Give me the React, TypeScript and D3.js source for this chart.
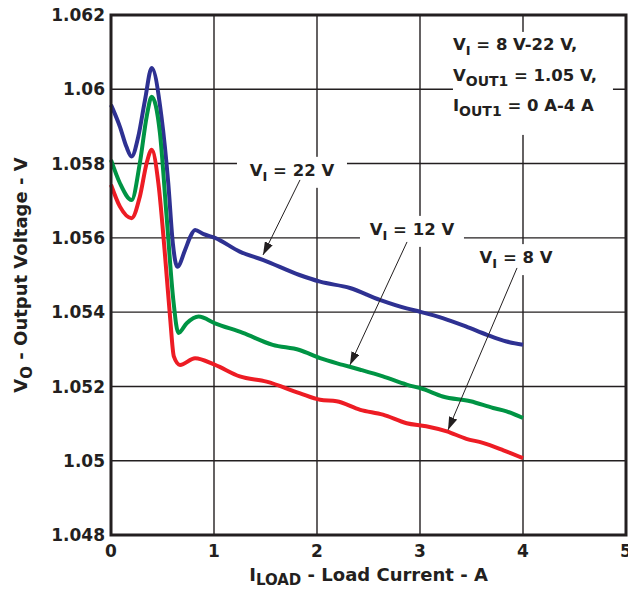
import * as d3 from "d3";

// Load current (A) / output voltage (V)
const current22 = [0, 0.087, 0.15, 0.2, 0.265, 0.33, 0.395, 0.49, 0.556, 0.6, 0.644, 0.72, 0.77, 0.816, 0.9, 1.01, 1.25, 1.48, 1.83, 2.03, 2.32, 2.61, 2.87, 3.0, 3.22, 3.45, 3.65, 3.84, 4.0];
const vout22 = [1.05958, 1.05899, 1.05845, 1.05819, 1.05873, 1.05971, 1.06057, 1.05926, 1.05747, 1.05586, 1.05522, 1.05568, 1.05603, 1.05621, 1.0561, 1.056, 1.05563, 1.0554, 1.055, 1.05482, 1.05465, 1.05433, 1.0541, 1.05401, 1.05384, 1.05361, 1.05339, 1.05321, 1.05312];

const current12 = [0, 0.087, 0.2, 0.28, 0.346, 0.395, 0.475, 0.54, 0.605, 0.654, 0.735, 0.85, 1.01, 1.28, 1.57, 1.83, 2.03, 2.25, 2.42, 2.64, 2.87, 3.03, 3.22, 3.49, 3.71, 3.84, 4.0];
const vout12 = [1.0581, 1.05747, 1.05702, 1.05801, 1.05926, 1.0598, 1.05882, 1.05657, 1.05433, 1.05344, 1.0537, 1.05388, 1.0537, 1.05344, 1.05312, 1.05298, 1.05276, 1.05258, 1.05245, 1.05227, 1.05205, 1.05193, 1.05173, 1.0516, 1.05142, 1.05133, 1.05115];

const current8 = [0, 0.087, 0.2, 0.28, 0.346, 0.395, 0.46, 0.52, 0.573, 0.61, 0.67, 0.816, 1.01, 1.25, 1.51, 1.83, 2.03, 2.19, 2.42, 2.64, 2.87, 3.06, 3.26, 3.45, 3.61, 3.81, 4.0];
const vout8 = [1.05743, 1.05684, 1.05653, 1.05711, 1.05801, 1.05837, 1.05747, 1.05568, 1.05388, 1.05281, 1.05258, 1.05276, 1.05258, 1.05227, 1.05213, 1.05182, 1.05164, 1.0516, 1.05137, 1.05124, 1.05101, 1.05093, 1.05079, 1.05059, 1.05048, 1.05028, 1.05007];

const xTicks = [0, 1, 2, 3, 4, 5];
const yTicks = [1.048, 1.05, 1.052, 1.054, 1.056, 1.058, 1.06, 1.062];
const yTickLabels = ["1.048", "1.05", "1.052", "1.054", "1.056", "1.058", "1.06", "1.062"];

const seriesNames = ["22", "12", "8"];
const seriesColors = ["#2e3192", "#009444", "#ed1c24"];

const FONT = "'DejaVu Sans', Verdana, sans-serif";
const INK = "#231f20";

export default function App() {
  const width = 628;
  const height = 590;
  const margin = { top: 15, right: 2, bottom: 55, left: 111 };

  const x = d3.scaleLinear().domain([0, 5]).range([margin.left, width - margin.right]);
  const y = d3.scaleLinear().domain([1.048, 1.062]).range([height - margin.bottom, margin.top]);

  const line = d3
    .line<[number, number]>()
    .x((d) => x(d[0]))
    .y((d) => y(d[1]))
    .curve(d3.curveMonotoneX);

  const series = [
    d3.zip(current22, vout22) as [number, number][],
    d3.zip(current12, vout12) as [number, number][],
    d3.zip(current8, vout8) as [number, number][],
  ];

  // callout labels, anchored in data units
  const callouts = [
    { name: seriesNames[0], at: [1.757, 1.05767], half: 55, from: [1.835, 1.05756], to: [1.476, 1.05554] },
    { name: seriesNames[1], at: [2.922, 1.05608], half: 52, from: [2.874, 1.05589], to: [2.32, 1.05258] },
    { name: seriesNames[2], at: [3.932, 1.05532], half: 47, from: [3.942, 1.05519], to: [3.272, 1.05083] },
  ];

  const noteX = x(3.32);
  const noteY = y(1.06106);

  return (
    <svg
      width={width}
      height={height}
      style={{ position: "absolute", left: 0, top: 0, background: "#fff" }}
      fontFamily={FONT}
      fontWeight="bold"
    >
      <defs>
        <marker
          id="head"
          markerUnits="userSpaceOnUse"
          viewBox="0 0 12 8"
          refX="12"
          refY="4"
          markerWidth="13"
          markerHeight="9"
          orient="auto"
        >
          <path d="M0,0 L12,4 L0,8 Z" fill={INK} />
        </marker>
      </defs>

      {/* grid */}
      {xTicks.slice(1, -1).map((t) => (
        <line key={"gx" + t} x1={x(t)} x2={x(t)} y1={y(1.062)} y2={y(1.048)} stroke={INK} strokeWidth={1.4} />
      ))}
      {yTicks.slice(1, -1).map((t) => (
        <line key={"gy" + t} x1={x(0)} x2={x(5)} y1={y(t)} y2={y(t)} stroke={INK} strokeWidth={1.4} />
      ))}

      {/* white boxes behind the labels */}
      {callouts.map((c) => (
        <rect
          key={"bx" + c.name}
          x={x(c.at[0]) - c.half}
          y={y(c.at[1]) - 19}
          width={c.half * 2}
          height={31}
          fill="#fff"
        />
      ))}
      <rect x={noteX} y={noteY - 18} width={160} height={103} fill="#fff" />

      {/* curves */}
      {series.map((s, i) => (
        <path key={"s" + i} d={line(s) ?? ""} fill="none" stroke={seriesColors[i]} strokeWidth={4} strokeLinejoin="round" strokeLinecap="butt" />
      ))}

      {/* frame */}
      <rect
        x={x(0)}
        y={y(1.062)}
        width={x(5) - x(0)}
        height={y(1.048) - y(1.062)}
        fill="none"
        stroke={INK}
        strokeWidth={3}
      />

      {/* arrows */}
      {callouts.map((c) => (
        <line
          key={"ar" + c.name}
          x1={x(c.from[0])}
          y1={y(c.from[1])}
          x2={x(c.to[0])}
          y2={y(c.to[1])}
          stroke={INK}
          strokeWidth={1}
          markerEnd="url(#head)"
        />
      ))}

      {/* callout text */}
      {callouts.map((c) => (
        <text key={"tx" + c.name} x={x(c.at[0])} y={y(c.at[1])} textAnchor="middle" fontSize={16.5} fill={INK}>
          V<tspan dy={5} fontSize={13}>I</tspan>
          <tspan dy={-5}>{` = ${c.name} V`}</tspan>
        </text>
      ))}

      {/* conditions note */}
      <text x={noteX} y={noteY} fontSize={16.5} fill={INK}>
        V<tspan dy={5} fontSize={13}>I</tspan>
        <tspan dy={-5}> = 8 V-22 V,</tspan>
      </text>
      <text x={noteX} y={noteY + 31} fontSize={16.5} fill={INK}>
        V<tspan dy={5} fontSize={14}>OUT1</tspan>
        <tspan dy={-5}> = 1.05 V,</tspan>
      </text>
      <text x={noteX} y={noteY + 61} fontSize={16.5} fill={INK}>
        I<tspan dy={5} fontSize={14}>OUT1</tspan>
        <tspan dy={-5}> = 0 A-4 A</tspan>
      </text>

      {/* ticks */}
      {xTicks.map((t) => (
        <text key={"xt" + t} x={x(t)} y={y(1.048) + 22} textAnchor="middle" fontSize={17} fill={INK}>
          {t}
        </text>
      ))}
      {yTicks.map((t, i) => (
        <text key={"yt" + t} x={x(0) - 6} y={y(t)} dy="0.36em" textAnchor="end" fontSize={17} fill={INK}>
          {yTickLabels[i]}
        </text>
      ))}

      {/* axis titles */}
      <text x={(x(0) + x(5)) / 2} y={581} textAnchor="middle" fontSize={18} fill={INK}>
        I<tspan dy={4} fontSize={15}>LOAD</tspan>
        <tspan dy={-4}> - Load Current - A</tspan>
      </text>
      <text
        transform={`translate(27,${(y(1.048) + y(1.062)) / 2}) rotate(-90)`}
        textAnchor="middle"
        fontSize={18}
        fill={INK}
      >
        V<tspan dy={5} fontSize={15}>O</tspan>
        <tspan dy={-5}> - Output Voltage - V</tspan>
      </text>
    </svg>
  );
}
